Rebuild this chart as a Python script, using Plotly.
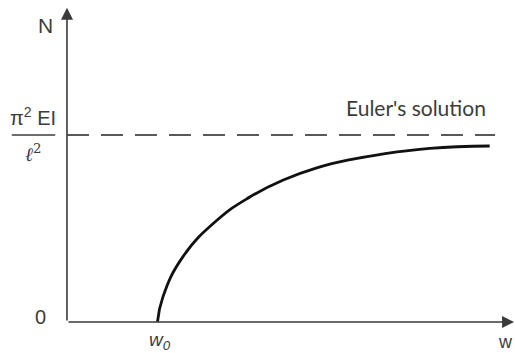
import plotly.graph_objects as go

# Load-deflection curve of an initially imperfect column (N normalised by the Euler load)
w_values = [1.0, 1.06, 1.28, 1.66, 2.02, 2.39, 2.76, 3.13, 3.46, 4.01, 4.67]
n_values = [0.0, 0.134, 0.348, 0.545, 0.668, 0.759, 0.824, 0.868, 0.896, 0.928, 0.941]

euler_load = 1.0
w_zero = 1.0
w_axis_end = 4.94
n_axis_end = 1.68
euler_line_end = 4.73

axis_color = "#3a3a3a"
text_color = "#3c3c3c"

fig = go.Figure()

fig.add_trace(go.Scatter(
    x=w_values, y=n_values, mode="lines",
    line=dict(color="#111111", width=2.8, shape="spline", smoothing=1.3),
    hoverinfo="skip", showlegend=False,
))

fig.add_trace(go.Scatter(
    x=[0, euler_line_end], y=[euler_load, euler_load], mode="lines",
    line=dict(color="#222222", width=1.6, dash="22px,12px"),
    hoverinfo="skip", showlegend=False,
))

# Axes with arrow heads
fig.add_annotation(x=w_axis_end, y=0, ax=0, ay=0, xref="x", yref="y", axref="x", ayref="y",
                   showarrow=True, arrowhead=2, arrowsize=1.5, arrowwidth=1.6,
                   arrowcolor=axis_color, text="")
fig.add_annotation(x=0, y=n_axis_end, ax=0, ay=0, xref="x", yref="y", axref="x", ayref="y",
                   showarrow=True, arrowhead=2, arrowsize=1.5, arrowwidth=1.6,
                   arrowcolor=axis_color, text="")

sans = "Liberation Sans, Arial"

fig.add_annotation(x=-0.24, y=1.585, text="N", showarrow=False,
                   font=dict(family=sans, size=21, color=text_color))
fig.add_annotation(x=-0.29, y=0.025, text="0", showarrow=False,
                   font=dict(family=sans, size=20, color=text_color))
fig.add_annotation(x=-0.37, y=1.10, text="π<sup>2</sup> EI", showarrow=False,
                   font=dict(family=sans, size=20, color=text_color))
fig.add_annotation(x=-0.37, y=0.905, text="<i>ℓ</i><sup>2</sup>", showarrow=False,
                   font=dict(family="DejaVu Serif", size=19, color=text_color))
fig.add_shape(type="line", x0=-0.61, x1=-0.13, y0=1.0, y1=1.0,
              line=dict(color=text_color, width=1.3))
fig.add_annotation(x=w_zero + 0.03, y=-0.10, text="<i>w<sub>0</sub></i>", showarrow=False,
                   font=dict(family=sans, size=19, color=text_color))
fig.add_annotation(x=4.84, y=-0.105, text="w", showarrow=False,
                   font=dict(family=sans, size=18, color=text_color))
fig.add_annotation(x=3.86, y=1.145, text="Euler's solution", showarrow=False,
                   font=dict(family="Lato, Open Sans", size=21, color=text_color))

fig.update_xaxes(range=[-0.740, 4.950], visible=False, fixedrange=True)
fig.update_yaxes(range=[-0.166, 1.722], visible=False, fixedrange=True)

fig.update_layout(
    width=515, height=353,
    margin=dict(l=0, r=0, t=0, b=0),
    paper_bgcolor="white", plot_bgcolor="white",
    showlegend=False,
)

fig.write_html("out.html")
